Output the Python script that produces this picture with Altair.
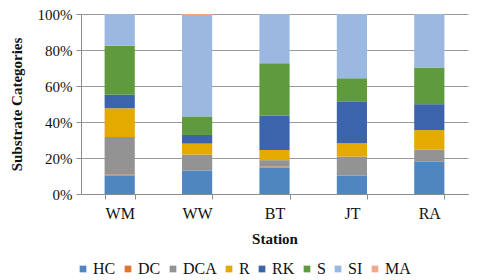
import altair as alt
import pandas as pd

stations = ["WM", "WW", "BT", "JT", "RA"]
categories = ["HC", "DC", "DCA", "R", "RK", "S", "SI", "MA"]
HC = [10.1, 13.1, 14.7, 10.3, 18.0]
DC = [0.6, 0.0, 0.6, 0.0, 0.3]
DCA = [21.0, 8.8, 3.5, 10.5, 6.4]
R = [16.0, 6.1, 5.7, 7.4, 10.8]
RK = [7.5, 4.8, 19.0, 23.0, 14.4]
S = [27.1, 10.3, 29.1, 13.1, 20.4]
SI = [17.7, 56.3, 27.4, 35.7, 29.7]
MA = [0.0, 0.6, 0.0, 0.0, 0.0]
colors = ["#4f86c0", "#e0762f", "#939393", "#e4aa00", "#3b64ad", "#5f9a3f", "#9ab8e0", "#f2a98a"]

series = [HC, DC, DCA, R, RK, S, SI, MA]
rows = []
for ci, (cat, vals) in enumerate(zip(categories, series)):
    for st, v in zip(stations, vals):
        rows.append({"Station": st, "Category": cat, "Value": v, "order": ci})
df = pd.DataFrame(rows)

FONT = "Liberation Serif"

chart = alt.Chart(df).mark_bar().encode(
    x=alt.X("Station:N", sort=stations,
            scale=alt.Scale(paddingInner=0.61, paddingOuter=0.305),
            axis=alt.Axis(title="Station", labelAngle=0, tickBand="extent",
                          domainColor="#8c8c8c", tickColor="#8c8c8c", tickSize=5,
                          labelFont=FONT, labelFontSize=16, labelColor="#111",
                          labelPadding=6,
                          titleFont=FONT, titleFontSize=15, titleFontWeight="bold",
                          titleColor="#111", titlePadding=10)),
    y=alt.Y("Value:Q", stack="normalize",
            scale=alt.Scale(domain=[0, 1]),
            axis=alt.Axis(title="Substrate Categories", format=".0%",
                          values=[0, 0.2, 0.4, 0.6, 0.8, 1.0],
                          domainColor="#8c8c8c", tickColor="#8c8c8c", tickSize=5,
                          gridColor="#9a9a9a", grid=True,
                          labelFont=FONT, labelFontSize=15, labelColor="#111",
                          labelPadding=4,
                          titleFont=FONT, titleFontSize=15, titleFontWeight="bold",
                          titleColor="#111", titlePadding=13)),
    color=alt.Color("Category:N", sort=categories,
                    scale=alt.Scale(domain=categories, range=colors),
                    legend=alt.Legend(title=None, orient="none", direction="horizontal",
                                      legendX=-6, legendY=247,
                                      symbolType="square", symbolSize=45,
                                      symbolStrokeWidth=0,
                                      labelFont=FONT, labelFontSize=16,
                                      labelColor="#111", columnPadding=4,
                                      labelOffset=2)),
    order=alt.Order("order:Q", sort="ascending"),
).properties(
    width=387, height=180,
    autosize=alt.AutoSizeParams(type="none"),
    padding={"left": 73, "top": 6, "right": 4, "bottom": 86},
).configure_view(stroke=None).configure_axis(domainWidth=1)

chart.save("out.html", embed_options={"renderer": "svg", "actions": False})
